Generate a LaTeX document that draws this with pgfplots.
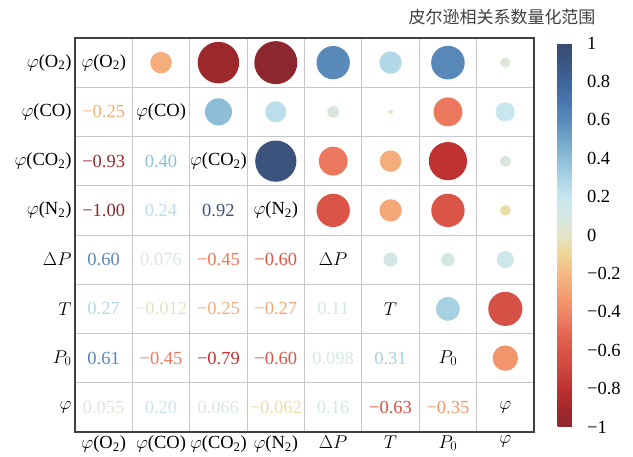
\RequirePackage{fix-cm}
\documentclass[border=0pt]{standalone}
\usepackage{fontspec}
\usepackage{pgfplots}
\usepackage{pgfplotstable}
\pgfplotsset{compat=1.18}
\setmainfont{Liberation Serif}
\newfontfamily\cjk{Noto Sans CJK SC}

\newcommand{\numfont}{\fontsize{18.5}{22}\selectfont}
\newcommand{\lO}{$\varphi$(O\textsubscript{2})}
\newcommand{\lCO}{$\varphi$(CO)}
\newcommand{\lCOt}{$\varphi$(CO\textsubscript{2})}
\newcommand{\lN}{$\varphi$(N\textsubscript{2})}
\newcommand{\lDP}{$\Delta P$}
\newcommand{\lT}{$T$}
\newcommand{\lP}{$P_0$}
\newcommand{\lphi}{$\varphi$}

% Pearson correlation coefficients (i < j), with the printed label
\pgfplotstableread{
i j r lab
0 1 -0.25 −0.25
0 2 -0.93 −0.93
0 3 -1.00 −1.00
0 4 0.60 0.60
0 5 0.27 0.27
0 6 0.61 0.61
0 7 0.055 0.055
1 2 0.40 0.40
1 3 0.24 0.24
1 4 0.076 0.076
1 5 -0.012 −0.012
1 6 -0.45 −0.45
1 7 0.20 0.20
2 3 0.92 0.92
2 4 -0.45 −0.45
2 5 -0.25 −0.25
2 6 -0.79 −0.79
2 7 0.066 0.066
3 4 -0.60 −0.60
3 5 -0.27 −0.27
3 6 -0.60 −0.60
3 7 -0.062 −0.062
4 5 0.11 0.11
4 6 0.098 0.098
4 7 0.16 0.16
5 6 0.31 0.31
5 7 -0.63 −0.63
6 7 -0.35 −0.35
}\corr

\pgfplotsset{
  colormap={corr}{
    rgb255(0)=(140,40,45) rgb255(1)=(165,40,42) rgb255(2)=(190,48,48)
    rgb255(3)=(205,70,62) rgb255(4)=(218,85,72) rgb255(5)=(230,105,85)
    rgb255(6)=(240,135,100) rgb255(7)=(244,160,115) rgb255(8)=(245,185,130)
    rgb255(9)=(240,215,150) rgb255(10)=(228,228,200) rgb255(11)=(212,232,228)
    rgb255(12)=(200,230,238) rgb255(13)=(170,210,228) rgb255(14)=(140,190,215)
    rgb255(15)=(115,165,200) rgb255(16)=(90,138,185) rgb255(17)=(72,118,175)
    rgb255(18)=(62,100,155) rgb255(19)=(60,85,130) rgb255(20)=(58,75,110)
  }
}

\begin{document}
\begin{tikzpicture}
\useasboundingbox (-75pt,-25pt) rectangle (558pt,432pt);
\begin{axis}[
  at={(0,0)}, anchor=south west,
  scale only axis, width=459pt, height=394pt,
  xmin=-0.5, xmax=7.5, ymin=-0.5, ymax=7.5, y dir=reverse,
  xtick={0,...,7}, ytick={0,...,7},
  xticklabels={\lO,\lCO,\lCOt,\lN,\lDP,\lT,\lP,\lphi},
  yticklabels={\lO,\lCO,\lCOt,\lN,\lDP,\lT,\lP,\lphi},
  minor xtick={0.5,1.5,...,6.5}, minor ytick={0.5,1.5,...,6.5},
  xminorgrids, yminorgrids,
  minor grid style={draw=black!22, line width=0.9pt},
  major tick length=0pt, minor tick length=0pt,
  tick label style={font=\numfont},
  axis line style={draw=black!75, line width=1.1pt},
  colormap name=corr, point meta min=-1, point meta max=1,
  colorbar,
  colorbar style={
    at={(parent axis.south east)}, anchor=south west,
    xshift=15pt, yshift=5pt,
    scale only axis, width=25pt, height=384pt,
    ytick={-1,-0.8,-0.6,-0.4,-0.2,0,0.2,0.4,0.6,0.8,1},
    yticklabels={−1,−0.8,−0.6,−0.4,−0.2,0,0.2,0.4,0.6,0.8,1},
    major tick length=0pt,
    axis line style={draw=none},
    yticklabel style={font=\numfont, xshift=1pt},
  },
]
% circles: area proportional to |r|
\addplot[scatter, only marks, mark=*, point meta=\thisrow{r},
  scatter/use mapped color={draw=mapped color, fill=mapped color},
  mark options={draw opacity=0},
  visualization depends on={21.5*sqrt(abs(\thisrow{r}))\as\rad},
  scatter/@pre marker code/.append style={/tikz/mark size=\rad}]
  table[x=j, y=i] {\corr};
% coefficients printed in the lower triangle, coloured through the colormap
\addplot[only marks, mark=none, point meta=explicit symbolic,
  visualization depends on={\thisrow{r}\as\rv},
  nodes near coords,
  every node near coord/.append style={anchor=center, font=\numfont,
    /utils/exec={\pgfmathsetmacro\cidx{(\rv+1)*500}\pgfplotscolormapdefinemappedcolor{\cidx}},
    text=mapped color}]
  table[x=i, y=j, meta=lab] {\corr};
% variable names on the diagonal
\node[font=\numfont] at (axis cs:0,0) {\lO};
\node[font=\numfont] at (axis cs:1,1) {\lCO};
\node[font=\numfont] at (axis cs:2,2) {\lCOt};
\node[font=\numfont] at (axis cs:3,3) {\lN};
\node[font=\numfont] at (axis cs:4,4) {\lDP};
\node[font=\numfont] at (axis cs:5,5) {\lT};
\node[font=\numfont] at (axis cs:6,6) {\lP};
\node[font=\numfont] at (axis cs:7,7) {\lphi};
\end{axis}
\node[font=\cjk\fontsize{17}{20}\selectfont, text=black!75] at (427pt,415pt) {皮尔逊相关系数量化范围};
\end{tikzpicture}
\end{document}
